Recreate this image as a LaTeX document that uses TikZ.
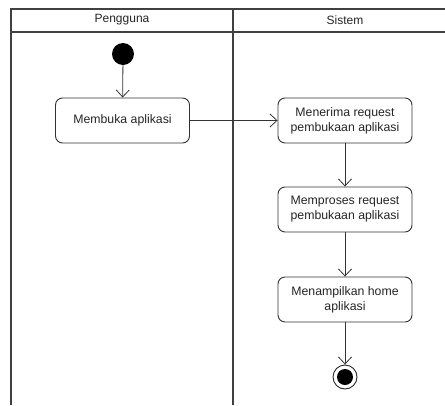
\documentclass[tikz,border=0pt]{standalone}
\usepackage{fontspec}
\setmainfont{Liberation Sans}
\usetikzlibrary{arrows.meta}
\begin{document}
\begin{tikzpicture}[x=1pt,y=-1pt,
  lane/.style={draw=black!75,line width=1.1pt},
  act/.style={draw=black!80,line width=0.9pt,rounded corners=7pt,minimum width=134pt,minimum height=45pt,align=center,font=\fontsize{12.3}{15}\selectfont,text=black!85,inner sep=2pt},
  flow/.style={draw=black!80,line width=0.8pt,-{Straight Barb[length=7pt,width=13pt,line width=0.8pt]}},
  hdr/.style={font=\fontsize{12}{14}\selectfont,text=black!85}]
\useasboundingbox (0,0) rectangle (445,405);
\fill[white] (0,0) rectangle (445,405);
% swimlanes
\draw[lane] (11,405) -- (11,9) -- (446,9);
\draw[lane] (11,32) -- (446,32);
\draw[lane] (233,9) -- (233,405);
\node[hdr] (h1) at (122,20) {Pengguna};
\node[hdr] (h2) at (345,20) {Sistem};
% nodes
\node[circle,fill=black,minimum size=22pt,inner sep=0pt] (start) at (123,54) {};
\node[act] (a1) at (122.5,120.5) {Membuka aplikasi};
\node[act] (a2) at (345,120.5) {Menerima request\\pembukaan aplikasi};
\node[act] (a3) at (345,209.5) {Memproses request\\pembukaan aplikasi};
\node[act] (a4) at (345,299.5) {Menampilkan home\\aplikasi};
\node[circle,draw=black!85,line width=0.9pt,fill=white,minimum size=24pt,inner sep=0pt] (end) at (345,377) {};
\node[circle,fill=black,minimum size=16pt,inner sep=0pt] (endin) at (end) {};
% flows
\draw[flow] (start) -- (a1);
\draw[flow] (a1) -- (a2);
\draw[flow] (a2) -- (a3);
\draw[flow] (a3) -- (a4);
\draw[flow] (a4) -- (end);
\end{tikzpicture}
\end{document}
